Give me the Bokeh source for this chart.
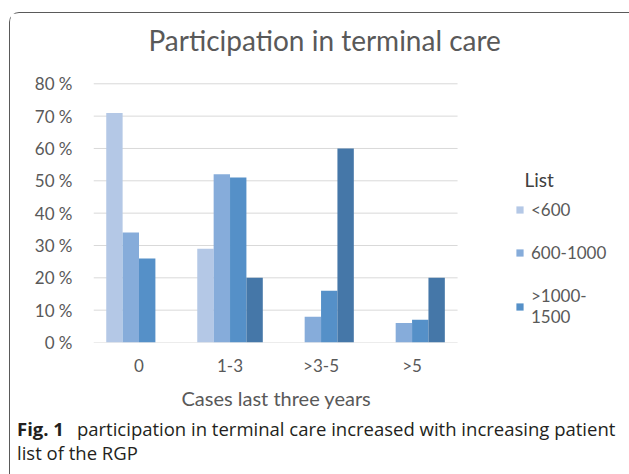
from bokeh.plotting import figure
from bokeh.layouts import column
from bokeh.models import (Range1d, FixedTicker, PrintfTickFormatter,
                          Legend, LegendItem, Title, ColumnDataSource, Div)
from bokeh.embed import file_html
from bokeh.resources import INLINE

categories = ["0", "1-3", ">3-5", ">5"]
lt600 = [71, 29, 0, 0]
s600_1000 = [34, 52, 8, 6]
s1000_1500 = [26, 51, 16, 7]
gt1500 = [0, 20, 60, 20]
series = [lt600, s600_1000, s1000_1500, gt1500]
series_names = ["<600", "600-1000", ">1000-\n1500", ">1500"]
colors = ["#B4C8E6", "#86ACDA", "#5590C8", "#4577A8"]
y_ticks = [0, 10, 20, 30, 40, 50, 60, 70, 80]

title_text = "Participation in terminal care"
x_label = "Cases last three years"
legend_title = "\u2002List"
caption_bold = "Fig. 1"
caption_line1 = "participation in terminal care increased with increasing patient"
caption_line2 = "list of the RGP"

W, H = 618, 401
cat_pos = list(range(len(categories)))

# frame extends to the right so that the legend can live inside it
p = figure(x_range=Range1d(-0.5, 5.29), y_range=Range1d(0, 80.4),
           width=W, height=H, output_backend="svg", toolbar_location=None,
           min_border_left=83, min_border_right=8, min_border_top=69, min_border_bottom=70)
p.outline_line_color = None
p.grid.visible = False
p.xaxis.ticker = FixedTicker(ticks=cat_pos)
p.xaxis.major_label_overrides = {i: c for i, c in zip(cat_pos, categories)}
p.yaxis.ticker = FixedTicker(ticks=y_ticks)
p.yaxis.formatter = PrintfTickFormatter(format="%d %%")
for ax in (p.xaxis, p.yaxis):
    ax.axis_line_color = None
    ax.major_tick_line_color = None
    ax.minor_tick_line_color = None
    ax.major_label_text_font = "Lato"
    ax.major_label_text_color = "#595959"
    ax.major_label_text_font_size = "17px"
p.yaxis.major_label_standoff = 15
p.xaxis.major_label_standoff = 6

# horizontal gridlines limited to the category area
p.segment(x0=-0.5, x1=len(categories) - 0.5, y0=y_ticks, y1=y_ticks,
          line_color="#D9D9D9", line_width=1)

# title (outermost) and a spacer closer to the frame
p.title.text = title_text
p.title.align = "left"
p.title.offset = 55
p.title.text_font = "Lato"
p.title.text_font_size = "28px"
p.title.text_font_style = "normal"
p.title.text_color = "#595959"
p.add_layout(Title(text=" ", text_font_size="7.5px"), "above")

# x-axis caption as a title below the axis, centred on the category area
p.add_layout(Title(text=x_label, align="left", offset=88, text_font="Lato",
                   text_font_size="20px", text_font_style="normal",
                   text_color="#595959"), "below")

offsets = [-0.27, -0.09, 0.09, 0.27]
rs = []
for vals, off, c in zip(series, offsets, colors):
    src = ColumnDataSource(dict(x=[i + off for i in cat_pos], top=vals))
    r = p.vbar(x="x", top="top", width=0.18, source=src, fill_color=c, line_color=None)
    rs.append(r)

legend = Legend(items=[LegendItem(label=series_names[i], renderers=[rs[i]]) for i in range(3)],
                location=(422, 15), padding=0, margin=0, border_line_color=None,
                background_fill_alpha=0, glyph_width=9, glyph_height=9,
                label_text_font="Lato", label_text_font_size="17px",
                label_text_color="#595959", spacing=22, label_standoff=7,
                title=legend_title, title_text_font="Lato", title_text_font_size="19px",
                title_text_font_style="normal", title_text_color="#404040",
                title_standoff=8)
p.add_layout(legend, "center")

caption_html = (
    '<div style="font-family:\'Open Sans\';font-size:18.5px;line-height:24px;'
    'color:#231F20;white-space:nowrap;padding:0 0 0 2px;margin-top:-2px;">'
    f'<b style="margin-right:13px">{caption_bold}</b>{caption_line1}<br>{caption_line2}</div>'
)
cap = Div(text=caption_html, width=W, height=56)

layout = column(p, cap,
                styles={"border-top": "1.5px solid #5a5a5a",
                        "border-left": "1.5px solid #5a5a5a",
                        "border-top-left-radius": "10px",
                        "margin-left": "9px", "margin-top": "12px"})

open("out.html", "w").write(file_html(layout, INLINE))
